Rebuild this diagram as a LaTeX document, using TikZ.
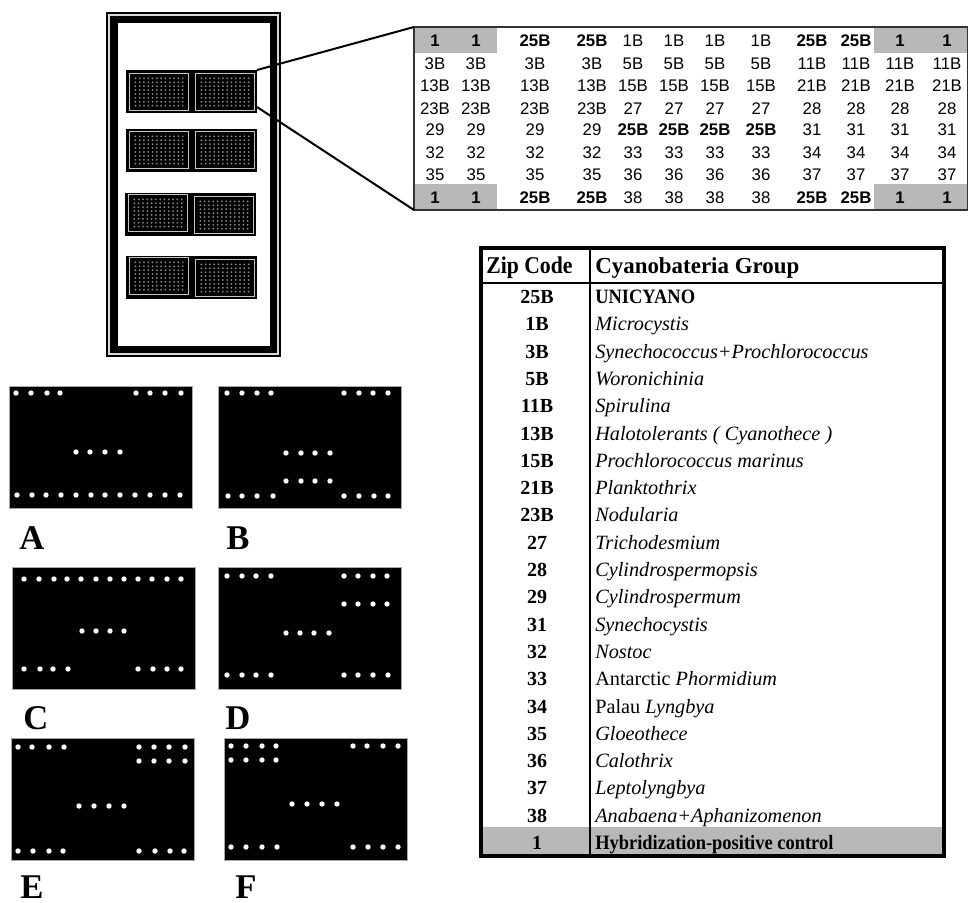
\documentclass[tikz,border=0pt]{standalone}
\usepackage{fontspec}
\setmainfont{Liberation Serif}
\newfontfamily\gridfont{Liberation Sans}
\newfontfamily\narrowserif[FakeStretch=0.905]{Liberation Serif}
\usetikzlibrary{positioning,calc}
\definecolor{rowgray}{gray}{0.72}
\definecolor{spotgray}{gray}{0.55}
\tikzset{
  panel/.style={draw=gray!70,line width=0.4pt,fill=black,inner sep=0pt,outer sep=0pt,minimum width=137.25pt,minimum height=91.5pt},
  blockout/.style={fill=black,inner sep=0pt,outer sep=0pt,minimum width=98.25pt,minimum height=32.25pt},
  arrayblock/.style={draw=gray!45,line width=1.2pt,fill=black,inner sep=0pt,outer sep=0pt,minimum width=44pt,minimum height=27.5pt},
  spot/.style={fill=white},
  panelname/.style={font=\fontsize{26}{28}\selectfont\bfseries,anchor=base,inner sep=0pt},
  gridcell/.style={font=\gridfont\fontsize{12.6}{14}\selectfont,anchor=base,inner sep=0pt},
  zipcell/.style={font=\fontsize{15}{18}\selectfont\bfseries,anchor=base,inner sep=0pt},
  groupcell/.style={font=\fontsize{15.2}{18}\selectfont,anchor=base west,inner sep=0pt},
  boldcell/.style={font=\narrowserif\fontsize{15.3}{18}\selectfont\bfseries,anchor=base west,inner sep=0pt},
  headcell/.style={font=\fontsize{17.2}{20}\selectfont\bfseries,anchor=base west,inner sep=0pt}
}
% one printed sub-array of the slide
\newcommand{\chiparray}[3]{
  \node[arrayblock] (#1) at (#2,#3) {};
  \foreach \dx in {-5.5,-4.5,...,5.5}
    \foreach \dy in {-3.5,-2.5,...,3.5}
      \fill[spotgray] ($(#1)+(4.3*\dx,3.9*\dy)$) circle (1);
}
\newcommand{\gridrow}[3]{
  \foreach \lab [count=\c] in {#3} {
    \pgfmathsetmacro{\colx}{{435,476,535,592,633,674,715,761,812,856,900,947}[\c-1]}
    \node[gridcell] (#1-\c) at (\colx,#2) {\lab};
  }
}
\newcommand{\spots}[2]{
  \foreach \x in {#2}
    \fill[spot] (\x,#1) circle (2.7);
}
\begin{document}
\begin{tikzpicture}[x=0.75pt,y=-0.75pt]
  \useasboundingbox (0,0) rectangle (968,903);

  % slide
  \fill[black] (106,12) rectangle (281,357);
  \fill[gray!30] (108,14) rectangle (279,355);
  \fill[black] (110,16) rectangle (277,353);
  \fill[white] (118,23) rectangle (270,346);
  \node[blockout] (rowa) at (191.5,91.5) {};
  \node[blockout] (rowb) at (191.5,150.5) {};
  \node[blockout] (rowc) at (190.5,214.5) {};
  \node[blockout] (rowd) at (191.5,277.5) {};
  \chiparray{ala}{159}{92}
  \chiparray{alb}{225}{92}
  \chiparray{bla}{159}{150}
  \chiparray{blb}{225}{150}
  \chiparray{cla}{158}{213}
  \chiparray{clb}{224}{215}
  \chiparray{dla}{159}{276}
  \chiparray{dlb}{225}{278}

  % enlarged sub-array
  \fill[rowgray] (414,27) rectangle (497,53);
  \fill[rowgray] (874,27) rectangle (968,53);
  \fill[rowgray] (414,184) rectangle (497,210);
  \fill[rowgray] (874,184) rectangle (968,210);
  \node[draw=black!80,line width=1.5pt,inner sep=0pt,outer sep=0pt,minimum width=415.5pt,minimum height=137.25pt] (gridbox) at (691,118.5) {};
  \gridrow{ga}{46.5}{\textbf{1},\textbf{1},\textbf{25B},\textbf{25B},1B,1B,1B,1B,\textbf{25B},\textbf{25B},\textbf{1},\textbf{1}}
  \gridrow{gb}{69}{3B,3B,3B,3B,5B,5B,5B,5B,11B,11B,11B,11B}
  \gridrow{gc}{91}{13B,13B,13B,13B,15B,15B,15B,15B,21B,21B,21B,21B}
  \gridrow{gd}{114}{23B,23B,23B,23B,27,27,27,27,28,28,28,28}
  \gridrow{ge}{135.5}{29,29,29,29,\textbf{25B},\textbf{25B},\textbf{25B},\textbf{25B},31,31,31,31}
  \gridrow{gf}{158.5}{32,32,32,32,33,33,33,33,34,34,34,34}
  \gridrow{gg}{180}{35,35,35,35,36,36,36,36,37,37,37,37}
  \gridrow{gh}{203}{\textbf{1},\textbf{1},\textbf{25B},\textbf{25B},38,38,38,38,\textbf{25B},\textbf{25B},\textbf{1},\textbf{1}}
  \coordinate (lowtap) at (257,107);
  \draw[line width=1.5pt] (rowa.north east) -- (gridbox.north west);
  \draw[line width=1.5pt] (lowtap) -- (gridbox.south west);

  % scan panels
  \node[panel] (panelA) at (100.5,447) {};
  \spots{393}{16,31,47,60,136,150,165,181}
  \spots{452}{76,90,105,120}
  \spots{495}{17,32,46,61,76,91,105,120,135,150,165,180}
  \node[panel] (panelB) at (309.5,447) {};
  \spots{393}{227,242,257,271,344,359,373,388}
  \spots{453}{286,301,315,330}
  \spots{481}{286,301,315,330}
  \spots{496}{228,242,257,273,344,359,374,388}
  \node[panel] (panelC) at (103.5,628) {};
  \spots{579}{24,39,54,67,81,96,110,124,138,152,167,181}
  \spots{631}{82,96,110,124}
  \spots{669}{24,40,53,68,138,153,167,181}
  \node[panel] (panelD) at (309.5,628) {};
  \spots{576}{227,242,256,271,344,358,373,387}
  \spots{604}{344,358,373,387}
  \spots{633}{286,300,314,329}
  \spots{675}{227,242,256,271,344,358,373,388}
  \node[panel] (panelE) at (103,799) {};
  \spots{747}{18,32,49,64,139,154,169,185}
  \spots{761}{139,154,169,185}
  \spots{806}{79,94,109,124}
  \spots{851}{18,33,49,63,139,155,170,184}
  \node[panel] (panelF) at (315.5,799) {};
  \spots{746}{231,246,262,276,353,367,383,398}
  \spots{760}{231,246,262,276}
  \spots{804}{292,307,322,337}
  \spots{847}{231,246,262,277,353,368,383,398}
  \node[panelname] (nameA) at (32,549) {A};
  \node[panelname] (nameB) at (238,549) {B};
  \node[panelname] (nameC) at (36,729) {C};
  \node[panelname] (nameD) at (238,729) {D};
  \node[panelname] (nameE) at (32,898) {E};
  \node[panelname] (nameF) at (246,898) {F};

  % zip code table
  \fill[rowgray] (481,827) rectangle (944,856);
  \node[draw,line width=3pt,inner sep=0pt,outer sep=0pt,minimum width=347.25pt,minimum height=456pt] (ziptable) at (712.5,552) {};
  \draw[line width=1.5pt] (590,248) -- (590,856);
  \draw[line width=1.5pt] (481,283) -- (944,283);
  \node[headcell,font=\narrowserif\fontsize{18}{20}\selectfont\bfseries] (headzip) at (486,273) {Zip Code};
  \node[headcell] (headgroup) at (595,273) {Cyanobateria Group};
  \foreach \code/\group/\look [count=\i] in {
    25B/{UNICYANO}/boldcell,
    1B/{\textit{Microcystis}}/groupcell,
    3B/{\textit{Synechococcus+Prochlorococcus}}/groupcell,
    5B/{\textit{Woronichinia}}/groupcell,
    11B/{\textit{Spirulina}}/groupcell,
    13B/{\textit{Halotolerants ( Cyanothece )}}/groupcell,
    15B/{\textit{Prochlorococcus marinus}}/groupcell,
    21B/{\textit{Planktothrix}}/groupcell,
    23B/{\textit{Nodularia}}/groupcell,
    27/{\textit{Trichodesmium}}/groupcell,
    28/{\textit{Cylindrospermopsis}}/groupcell,
    29/{\textit{Cylindrospermum}}/groupcell,
    31/{\textit{Synechocystis}}/groupcell,
    32/{\textit{Nostoc}}/groupcell,
    33/{Antarctic \textit{Phormidium}}/groupcell,
    34/{Palau \textit{Lyngbya}}/groupcell,
    35/{\textit{Gloeothece}}/groupcell,
    36/{\textit{Calothrix}}/groupcell,
    37/{\textit{Leptolyngbya}}/groupcell,
    38/{\textit{Anabaena+Aphanizomenon}}/groupcell,
    1/{Hybridization-positive control}/boldcell} {
    \pgfmathsetmacro{\rowy}{303.5+(\i-1)*27.3}
    \node[zipcell] (zip\i) at (537,\rowy) {\code};
    \node[\look] (group\i) at (595,\rowy) {\group};
  }
\end{tikzpicture}
\end{document}
